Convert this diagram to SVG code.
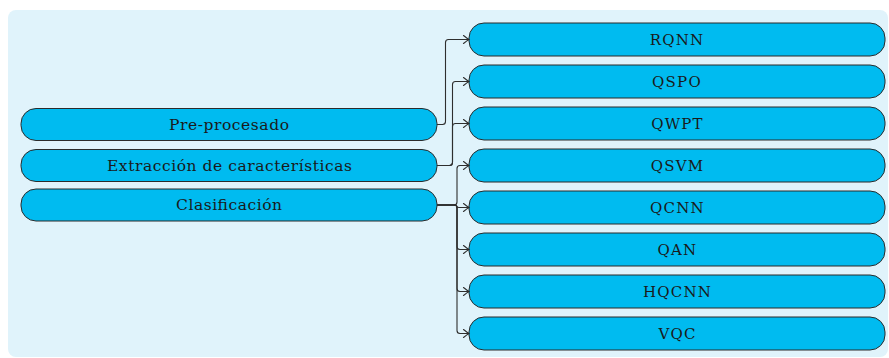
<svg xmlns="http://www.w3.org/2000/svg" width="889" height="358" viewBox="0 0 889 358">
  <defs>
    <style>
      .panel { fill: #e0f3fb; }
      .node rect { fill: #00bbf0; stroke: #2b2b2b; stroke-width: 1; }
      .node text { font-family: "DejaVu Serif", "Liberation Serif", serif; font-size: 15.5px; fill: #1a1a1a; text-anchor: middle; }
      .node text.caps { font-size: 15px; letter-spacing: 1.2px; }
      .edge { fill: none; stroke: #2e2e2e; stroke-width: 1.1; marker-end: url(#to); }
    </style>
    <!-- open "to"-style arrowhead -->
    <marker id="to" markerUnits="userSpaceOnUse" markerWidth="10" markerHeight="10" viewBox="-7 -5 8 10" refX="0" refY="0" orient="auto">
      <path d="M -5.5 -4 Q -1.5 -0.8 0 0 Q -1.5 0.8 -5.5 4" fill="none" stroke="#2e2e2e" stroke-width="1.1" stroke-linecap="round"/>
    </marker>
  </defs>

  <rect class="panel" x="8" y="10" width="880" height="347" rx="8" ry="8"/>

  <!-- stages -->
  <g id="preprocesado" class="node">
    <rect x="21" y="108.5" width="416" height="32" rx="15"/>
    <text x="229" y="129.5" textLength="120" lengthAdjust="spacing">Pre-procesado</text>
  </g>
  <g id="extraccion" class="node">
    <rect x="21" y="149.5" width="416" height="32" rx="15"/>
    <text x="229.5" y="170.5" textLength="245" lengthAdjust="spacing">Extracción de características</text>
  </g>
  <g id="clasificacion" class="node">
    <rect x="21" y="189" width="416" height="32" rx="15"/>
    <text x="229" y="210" textLength="106" lengthAdjust="spacing">Clasificación</text>
  </g>

  <!-- methods -->
  <g id="rqnn" class="node">
    <rect x="469" y="23" width="416" height="33" rx="15"/>
    <text class="caps" x="677" y="44.5">RQNN</text>
  </g>
  <g id="qspo" class="node">
    <rect x="469" y="65" width="416" height="33" rx="15"/>
    <text class="caps" x="677" y="86.5">QSPO</text>
  </g>
  <g id="qwpt" class="node">
    <rect x="469" y="107" width="416" height="33" rx="15"/>
    <text class="caps" x="677.5" y="128.5">QWPT</text>
  </g>
  <g id="qsvm" class="node">
    <rect x="469" y="149" width="416" height="33" rx="15"/>
    <text class="caps" x="677.5" y="170.5">QSVM</text>
  </g>
  <g id="qcnn" class="node">
    <rect x="469" y="191" width="416" height="33" rx="15"/>
    <text class="caps" x="677.5" y="212.5">QCNN</text>
  </g>
  <g id="qan" class="node">
    <rect x="469" y="233" width="416" height="33" rx="15"/>
    <text class="caps" x="677.5" y="254.5">QAN</text>
  </g>
  <g id="hqcnn" class="node">
    <rect x="469" y="275" width="416" height="33" rx="15"/>
    <text class="caps" x="677.5" y="296.5">HQCNN</text>
  </g>
  <g id="vqc" class="node">
    <rect x="469" y="317" width="416" height="33" rx="15"/>
    <text class="caps" x="677.5" y="338.5">VQC</text>
  </g>

  <!-- connectors -->
  <g id="connectors">
    <path class="edge" d="M 437 124.5 H 442.5 Q 445.5 124.5 445.5 121.5 V 42.5 Q 445.5 39.5 448.5 39.5 H 469"/>
    <path class="edge" d="M 437 165.5 H 449.5 Q 452.5 165.5 452.5 162.5 V 84.5 Q 452.5 81.5 455.5 81.5 H 469"/>
    <path class="edge" d="M 437 165.5 H 449.5 Q 452.5 165.5 452.5 162.5 V 126.5 Q 452.5 123.5 455.5 123.5 H 469"/>
    <path class="edge" d="M 437 205 H 454 Q 457 205 457 202 V 168.5 Q 457 165.5 460 165.5 H 469"/>
    <path class="edge" d="M 437 205 H 455 Q 457 205 457 206.5 Q 457 207.5 459 207.5 H 469"/>
    <path class="edge" d="M 437 205 H 454 Q 457 205 457 208 V 246.5 Q 457 249.5 460 249.5 H 469"/>
    <path class="edge" d="M 437 205 H 454 Q 457 205 457 208 V 288.5 Q 457 291.5 460 291.5 H 469"/>
    <path class="edge" d="M 437 205 H 454 Q 457 205 457 208 V 330.5 Q 457 333.5 460 333.5 H 469"/>
  </g>
</svg>
